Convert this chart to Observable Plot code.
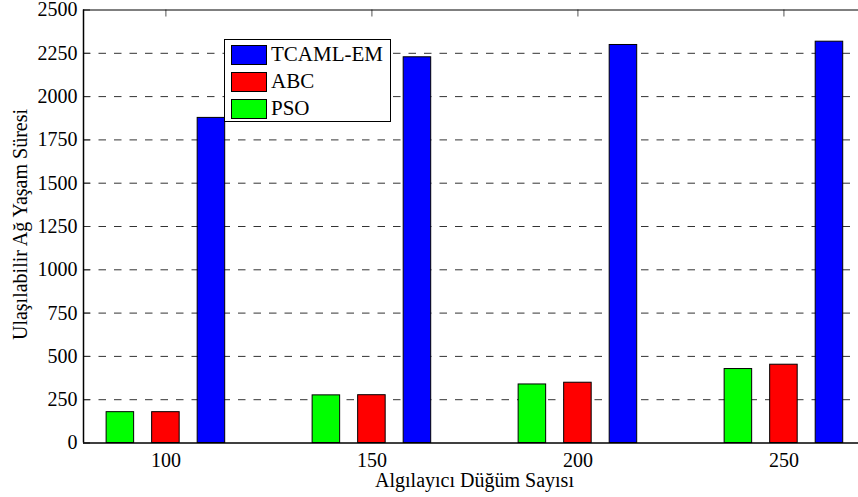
<!DOCTYPE html>
<html>
<head>
<meta charset="utf-8">
<script src="https://cdn.jsdelivr.net/npm/d3@7"></script>
<script src="https://cdn.jsdelivr.net/npm/@observablehq/plot@0.6"></script>
<style>
  html, body { margin: 0; padding: 0; background: #fff; }
  #wrap { position: relative; width: 858px; height: 497px; font-family: "Liberation Serif", Tinos, "Times New Roman", Times, "DejaVu Serif", serif; }
  #wrap svg, #wrap svg text { font-family: "Liberation Serif", Tinos, "Times New Roman", Times, "DejaVu Serif", serif !important; }
  #legend { position: absolute; left: 224px; top: 39px; width: 167px; height: 83px; border: 1px solid #000; background: #fff; box-sizing: border-box; }
  .row { position: absolute; left: 6px; height: 21px; display: flex; align-items: center; }
  .sw { width: 36px; height: 20px; border: 1px solid #000; box-sizing: border-box; margin-right: 4px; }
  .lab { font-size: 21px; line-height: 21px; color: #000; }
</style>
</head>
<body>
<div id="wrap"></div>
<script>
// ---- data ----
const nodeCounts = [100, 150, 200, 250];
const seriesNames = ["PSO", "ABC", "TCAML-EM"];
const psoValues = [178, 275, 338, 427];
const abcValues = [178, 276, 348, 452];
const tcamlValues = [1877, 2227, 2298, 2317];
const yTicks = [0, 250, 500, 750, 1000, 1250, 1500, 1750, 2000, 2250, 2500];
const xTicks = [100, 150, 200, 250];
const legendOrder = ["TCAML-EM", "ABC", "PSO"];

// ---- styling / layout ----
const colors = {"PSO": "#00ff00", "ABC": "#ff0000", "TCAML-EM": "#0000ff"};
const xDomain = [80, 268.1];
const barOffset = {"PSO": -11.05, "ABC": 0, "TCAML-EM": 11.05};
const barHalf = 3.34;
const serif = "'Liberation Serif', Tinos, 'Times New Roman', Times, 'DejaVu Serif', serif";

const valuesBySeries = {"PSO": psoValues, "ABC": abcValues, "TCAML-EM": tcamlValues};
const rows = [];
seriesNames.forEach(s => nodeCounts.forEach((n, i) => rows.push({series: s, node: n, value: valuesBySeries[s][i]})));

const W = 858, H = 497, mL = 83, mR = 0, mT = 9.5, mB = 54.5;
const plotW = W - mL - mR, plotH = H - mT - mB;

const chart = Plot.plot({
  width: W, height: H,
  marginLeft: mL, marginRight: mR, marginTop: mT, marginBottom: mB,
  style: {fontFamily: serif, fontSize: "20px", background: "#fff", overflow: "visible"},
  x: {type: "linear", domain: xDomain},
  y: {domain: [0, 2500]},
  marks: [
    Plot.ruleY(yTicks.filter(d => d > 0 && d < 2500), {y: d => d, stroke: "#333", strokeWidth: 1, strokeDasharray: "7.5,8"}),
    Plot.tickX(xTicks, {x: d => d, insetBottom: plotH - 7, stroke: "#555"}),
    Plot.tickY(yTicks, {y: d => d, insetRight: plotW - 7, stroke: "#333"}),
    Plot.rectY(rows, {
      x1: d => d.node + barOffset[d.series] - barHalf,
      x2: d => d.node + barOffset[d.series] + barHalf,
      y1: 0, y2: "value",
      fill: d => colors[d.series], stroke: "#000", strokeWidth: 1
    }),
    Plot.ruleY([0], {stroke: "#000", strokeWidth: 1.5}),
    Plot.ruleY([2500], {stroke: "#000", strokeWidth: 1}),
    Plot.ruleX([xDomain[0]], {stroke: "#000", strokeWidth: 1.5}),
    Plot.axisY({ticks: yTicks, tickSize: 0, tickPadding: 6, label: null, tickFormat: d => String(d), fontSize: 20, fill: "#000"}),
    Plot.axisX({ticks: xTicks, tickSize: 0, tickPadding: 10, label: null, tickFormat: d => String(d), fontSize: 20, fill: "#000"}),
    Plot.text(["Algılayıcı Düğüm Sayısı"], {frameAnchor: "bottom", textAnchor: "middle", dy: 44, dx: 3.5, lineAnchor: "bottom", fontSize: 20, fill: "#000"}),
    Plot.text(["Ulaşılabilir Ağ Yaşam Süresi"], {frameAnchor: "left", textAnchor: "middle", lineAnchor: "middle", dx: -63, dy: -2, rotate: -90, fontSize: 20, fill: "#000"})
  ]
});

const wrap = document.getElementById("wrap");
wrap.appendChild(chart);

const legend = document.createElement("div");
legend.id = "legend";
legendOrder.forEach((s, i) => {
  const row = document.createElement("div");
  row.className = "row";
  row.style.top = (4 + i * 27) + "px";
  const sw = document.createElement("div");
  sw.className = "sw";
  sw.style.background = colors[s];
  const lab = document.createElement("span");
  lab.className = "lab";
  lab.textContent = s;
  row.appendChild(sw);
  row.appendChild(lab);
  legend.appendChild(row);
});
wrap.appendChild(legend);
</script>
</body>
</html>
